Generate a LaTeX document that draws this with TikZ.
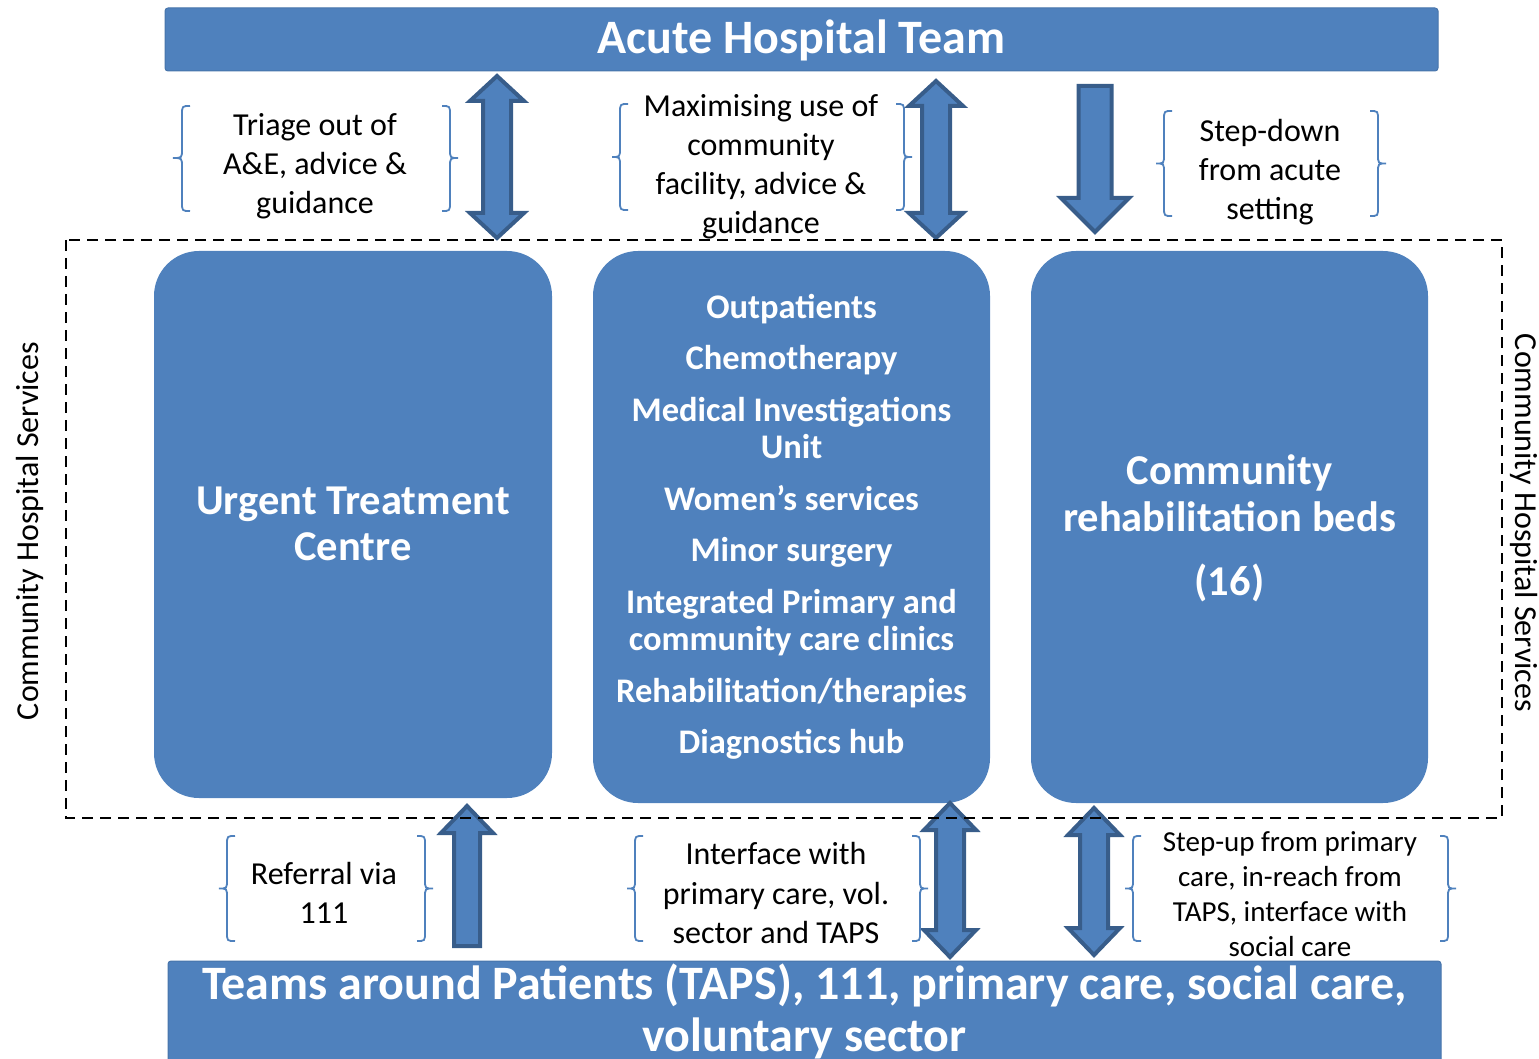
\documentclass[tikz,border=0pt]{standalone}
\usepackage{fontspec}
\setmainfont{Carlito}
\definecolor{boxblue}{HTML}{4F81BD}
\definecolor{darkblue}{HTML}{385D8A}
\tikzset{
  bar/.style={fill=boxblue, draw=boxblue!90!black, line width=1pt, rounded corners=3pt},
  bigbox/.style={fill=boxblue, rounded corners=45pt},
  blockarrow/.style={fill=boxblue, draw=darkblue, line width=4pt, line join=miter},
  brc/.style={draw=boxblue, line width=1.8pt},
  lbl/.style={align=center, inner sep=0pt, font=\fontsize{32}{39}\selectfont},
  wtxt/.style={align=center, inner sep=0pt, text=white},
}
% double arrow: cx, ytop, ybot, shaft half width, head half width, head length
\newcommand{\DArr}[6]{%
  \draw[blockarrow] (#1,#2) -- (#1+#5,#2+#6) -- (#1+#4,#2+#6) -- (#1+#4,#3-#6) -- (#1+#5,#3-#6) -- (#1,#3)
   -- (#1-#5,#3-#6) -- (#1-#4,#3-#6) -- (#1-#4,#2+#6) -- (#1-#5,#2+#6) -- cycle;}
% down arrow: cx, ytop(flat), ytip, shaft hw, head hw, head len
\newcommand{\DnArr}[6]{%
  \draw[blockarrow] (#1-#4,#2) -- (#1+#4,#2) -- (#1+#4,#3-#6) -- (#1+#5,#3-#6) -- (#1,#3)
   -- (#1-#5,#3-#6) -- (#1-#4,#3-#6) -- cycle;}
% up arrow: cx, ytip, ybottom(flat), shaft hw, head hw, head len
\newcommand{\UpArr}[6]{%
  \draw[blockarrow] (#1,#2) -- (#1+#5,#2+#6) -- (#1+#4,#2+#6) -- (#1+#4,#3) -- (#1-#4,#3)
   -- (#1-#4,#2+#6) -- (#1-#5,#2+#6) -- cycle;}
% left brace: xl(tip), xm, xr(ends), yt, ym, yb
\newcommand{\LBrc}[6]{%
  \draw[brc] (#3,#4) .. controls (#2,#4) .. (#2,#4+9) -- (#2,#5-9) .. controls (#2,#5) .. (#1,#5)
   .. controls (#2,#5) .. (#2,#5+9) -- (#2,#6-9) .. controls (#2,#6) .. (#3,#6);}
% right brace: xl(ends), xm, xr(tip), yt, ym, yb
\newcommand{\RBrc}[6]{%
  \draw[brc] (#1,#4) .. controls (#2,#4) .. (#2,#4+9) -- (#2,#5-9) .. controls (#2,#5) .. (#3,#5)
   .. controls (#2,#5) .. (#2,#5+9) -- (#2,#6-9) .. controls (#2,#6) .. (#1,#6);}
\begin{document}
\begin{tikzpicture}[x=1pt,y=-1pt]
\useasboundingbox (0,0) rectangle (1539,1059);
% bars
\draw[bar] (165,8) rectangle (1438,71);
\node[wtxt, font=\bfseries\fontsize{48}{52}\selectfont] (top) at (801.5,40) {Acute Hospital Team};
\draw[bar] (168,961) rectangle (1441,1090);
\node[wtxt, font=\bfseries\fontsize{48}{52}\selectfont, anchor=north] (bottom) at (804.5,964) {Teams around Patients (TAPS), 111, primary care, social care,\\voluntary sector};
% boxes
\fill[bigbox] (154,251) rectangle (552,798);
\node[wtxt, font=\bfseries\fontsize{42.5}{46}\selectfont] (utc) at (353,524) {Urgent Treatment\\Centre};
\fill[bigbox] (593,251) rectangle (990,803);
\node[wtxt, font=\bfseries\fontsize{34.5}{37.5}\selectfont] (mid) at (791.5,527) {Outpatients\\[14pt]Chemotherapy\\[14pt]Medical Investigations\\Unit\\[14pt]Women’s services\\[14pt]Minor surgery\\[14pt]Integrated Primary and\\community care clinics\\[14pt]Rehabilitation/therapies\\[14pt]Diagnostics hub};
\fill[bigbox] (1031,251) rectangle (1428,803);
\node[wtxt, font=\bfseries\fontsize{42.5}{47}\selectfont] (rehab) at (1229.5,528) {Community\\rehabilitation beds\\[17pt](16)};
% arrows
\DArr{497}{76}{238}{14}{27}{25}
\DArr{936}{81}{238}{14}{27}{25}
\DnArr{1095}{86}{232}{16.5}{34}{34}
\UpArr{467}{806}{946}{13}{26}{27}
\DArr{950}{803}{957}{14}{26}{27}
\DArr{1094}{808}{955}{14}{26}{27}
% dashed frame
\draw[line width=2.6pt, dash pattern=on 11pt off 7pt] (66,240) rectangle (1502,818);
\node[rotate=90, font=\fontsize{32}{39}\selectfont, inner sep=0pt] (lside) at (30,531) {Community Hospital Services};
\node[rotate=-90, font=\fontsize{32}{39}\selectfont, inner sep=0pt] (rside) at (1524,523) {Community Hospital Services};
% labels with braces
\LBrc{173}{182}{190}{106}{158}{211}\RBrc{442}{450}{458}{106}{158}{211}
\node[lbl] (l1) at (315,166) {Triage out of\\A\&E, advice \&\\guidance};
\LBrc{612}{620}{628}{104}{157}{210}\RBrc{896}{904}{912}{104}{157}{210}
\node[lbl] (l2) at (761,166.5) {Maximising use of\\community\\facility, advice \&\\guidance};
\LBrc{1156}{1164}{1172}{111}{163.5}{216}\RBrc{1370}{1378}{1386}{111}{163.5}{216}
\node[lbl] (l3) at (1270,172) {Step-down\\from acute\\setting};
\LBrc{219}{227}{235}{836}{888.5}{941}\RBrc{417}{425}{433}{836}{888.5}{941}
\node[lbl] (l4) at (324,893) {Referral via\\111};
\LBrc{627}{635}{643}{836}{888.5}{941}\RBrc{912}{920}{928}{836}{888.5}{941}
\node[lbl] (l5) at (776,893) {Interface with\\primary care, vol.\\sector and TAPS};
\LBrc{1125}{1133}{1141}{836}{888.5}{941}\RBrc{1440}{1448}{1456}{836}{888.5}{941}
\node[lbl, font=\fontsize{29}{35}\selectfont] (l6) at (1290,894) {Step-up from primary\\care, in-reach from\\TAPS, interface with\\social care};
\end{tikzpicture}
\end{document}
